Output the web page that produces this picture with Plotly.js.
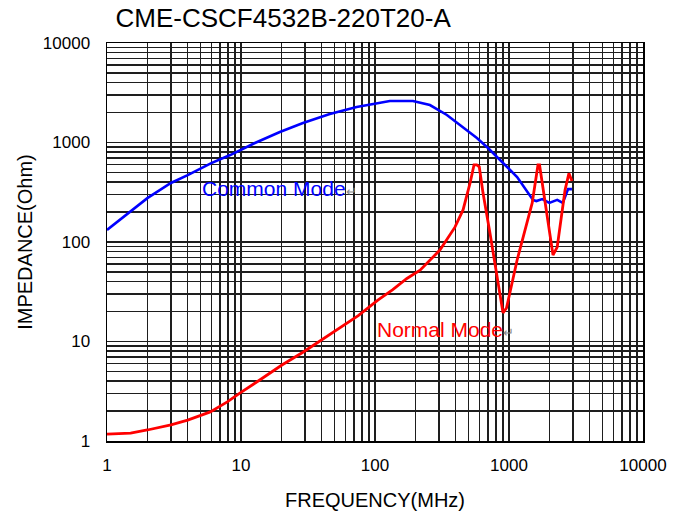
<!DOCTYPE html>
<html>
<head>
<meta charset="utf-8">
<script src="https://cdn.plot.ly/plotly-3.0.1.min.js"></script>
<style>html,body{margin:0;padding:0;background:#fff;}#chart{width:679px;height:518px;}</style>
</head>
<body>
<div id="chart"></div>
<script>
// Common mode impedance (Ohm) vs frequency (MHz)
var cmFreq = [1, 1.5, 2, 3, 4, 6, 8.3, 12.7, 19.5, 29, 46, 73, 97, 129, 192, 257, 344, 454, 576, 697, 856, 1150, 1510, 1600, 1770, 2000, 2290, 2520, 2760, 2950];
var cmZ    = [132, 203, 276, 392, 470, 620, 748, 988, 1275, 1570, 1930, 2275, 2440, 2610, 2610, 2380, 1890, 1430, 1110, 880, 665, 450, 265, 258, 270, 247, 265, 247, 340, 340];

// Normal mode impedance (Ohm) vs frequency (MHz)
var nmFreq = [1, 1.5, 2, 3, 4, 5.9, 7.9, 9.8, 13.8, 20.2, 29, 40, 55, 75, 105, 135, 173, 217, 305, 395, 454, 512, 548, 575, 600, 640, 721, 857, 902, 958, 1150, 1490, 1645, 1690, 1920, 2130, 2290, 2620, 2800, 2950];
var nmZ    = [1.17, 1.2, 1.29, 1.45, 1.62, 1.96, 2.47, 3.03, 4.1, 5.8, 7.8, 10.4, 13.6, 18.2, 26, 33, 43, 52, 83, 141, 210, 390, 595, 595, 570, 310, 123, 30.6, 19.4, 21.7, 66, 247, 595, 595, 178, 74, 89, 333, 490, 410];

var decades = [1, 10, 100, 1000];
var gridVals = [];
var gridText = [];
decades.forEach(function (d) {
  for (var k = 1; k <= 9; k++) {
    gridVals.push(k * d);
    gridText.push(k === 1 ? String(d) : '');
  }
});
gridVals.push(10000);
gridText.push('10000');

var chartTitle = 'CME-CSCF4532B-220T20-A';
var xTitle = 'FREQUENCY(MHz)';
var yTitle = 'IMPEDANCE(Ohm)';
var cmLabel = 'Common Mode';
var nmLabel = 'Normal Mode';

var FONT = 'Liberation Sans, Arial, sans-serif';

var traces = [
  {x: cmFreq, y: cmZ, type: 'scatter', mode: 'lines', name: cmLabel,
   line: {color: '#0000ff', width: 2.6}},
  {x: nmFreq, y: nmZ, type: 'scatter', mode: 'lines', name: nmLabel,
   line: {color: '#ff0000', width: 2.8}}
];

var axisCommon = {
  type: 'log', range: [0, 4],
  tickmode: 'array', tickvals: gridVals, ticktext: gridText,
  showgrid: true, gridcolor: '#1e1e1e', gridwidth: 1.5,
  showline: true, mirror: true, linecolor: '#000', linewidth: 1.5,
  zeroline: false, ticks: '',
  tickfont: {family: FONT, size: 17, color: '#000'}
};

var layout = {
  width: 679, height: 518,
  paper_bgcolor: '#fff', plot_bgcolor: '#fff',
  margin: {l: 107, r: 36, t: 43, b: 77},
  showlegend: false,
  font: {family: FONT, color: '#000'},
  title: {text: chartTitle, font: {family: FONT, size: 26, color: '#000'},
          xref: 'container', yref: 'container', x: 0.417, xanchor: 'center', y: 0.965, yanchor: 'middle'},
  xaxis: Object.assign({}, axisCommon, {
    ticklabelstandoff: 8,
    title: {text: xTitle, font: {family: FONT, size: 20, color: '#000'}, standoff: 19}
  }),
  yaxis: Object.assign({}, axisCommon, {
    ticklabelstandoff: 12,
    title: {text: yTitle, font: {family: FONT, size: 20, color: '#000'}, standoff: 5}
  }),
  annotations: [
    {x: Math.log10(4.94), y: Math.log10(341), xref: 'x', yref: 'y', xanchor: 'left', yanchor: 'middle',
     showarrow: false, text: cmLabel + '<span style="color:#888;font-size:13px">↵</span>',
     font: {family: FONT, size: 21, color: '#0000ff'}},
    {x: Math.log10(100), y: Math.log10(13.1), xref: 'x', yref: 'y', xanchor: 'left', yanchor: 'middle',
     showarrow: false, text: nmLabel + '<span style="color:#888;font-size:13px">↵</span>',
     font: {family: FONT, size: 21, color: '#ff0000'}}
  ]
};

Plotly.newPlot('chart', traces, layout, {displayModeBar: false, staticPlot: true});
</script>
</body>
</html>
